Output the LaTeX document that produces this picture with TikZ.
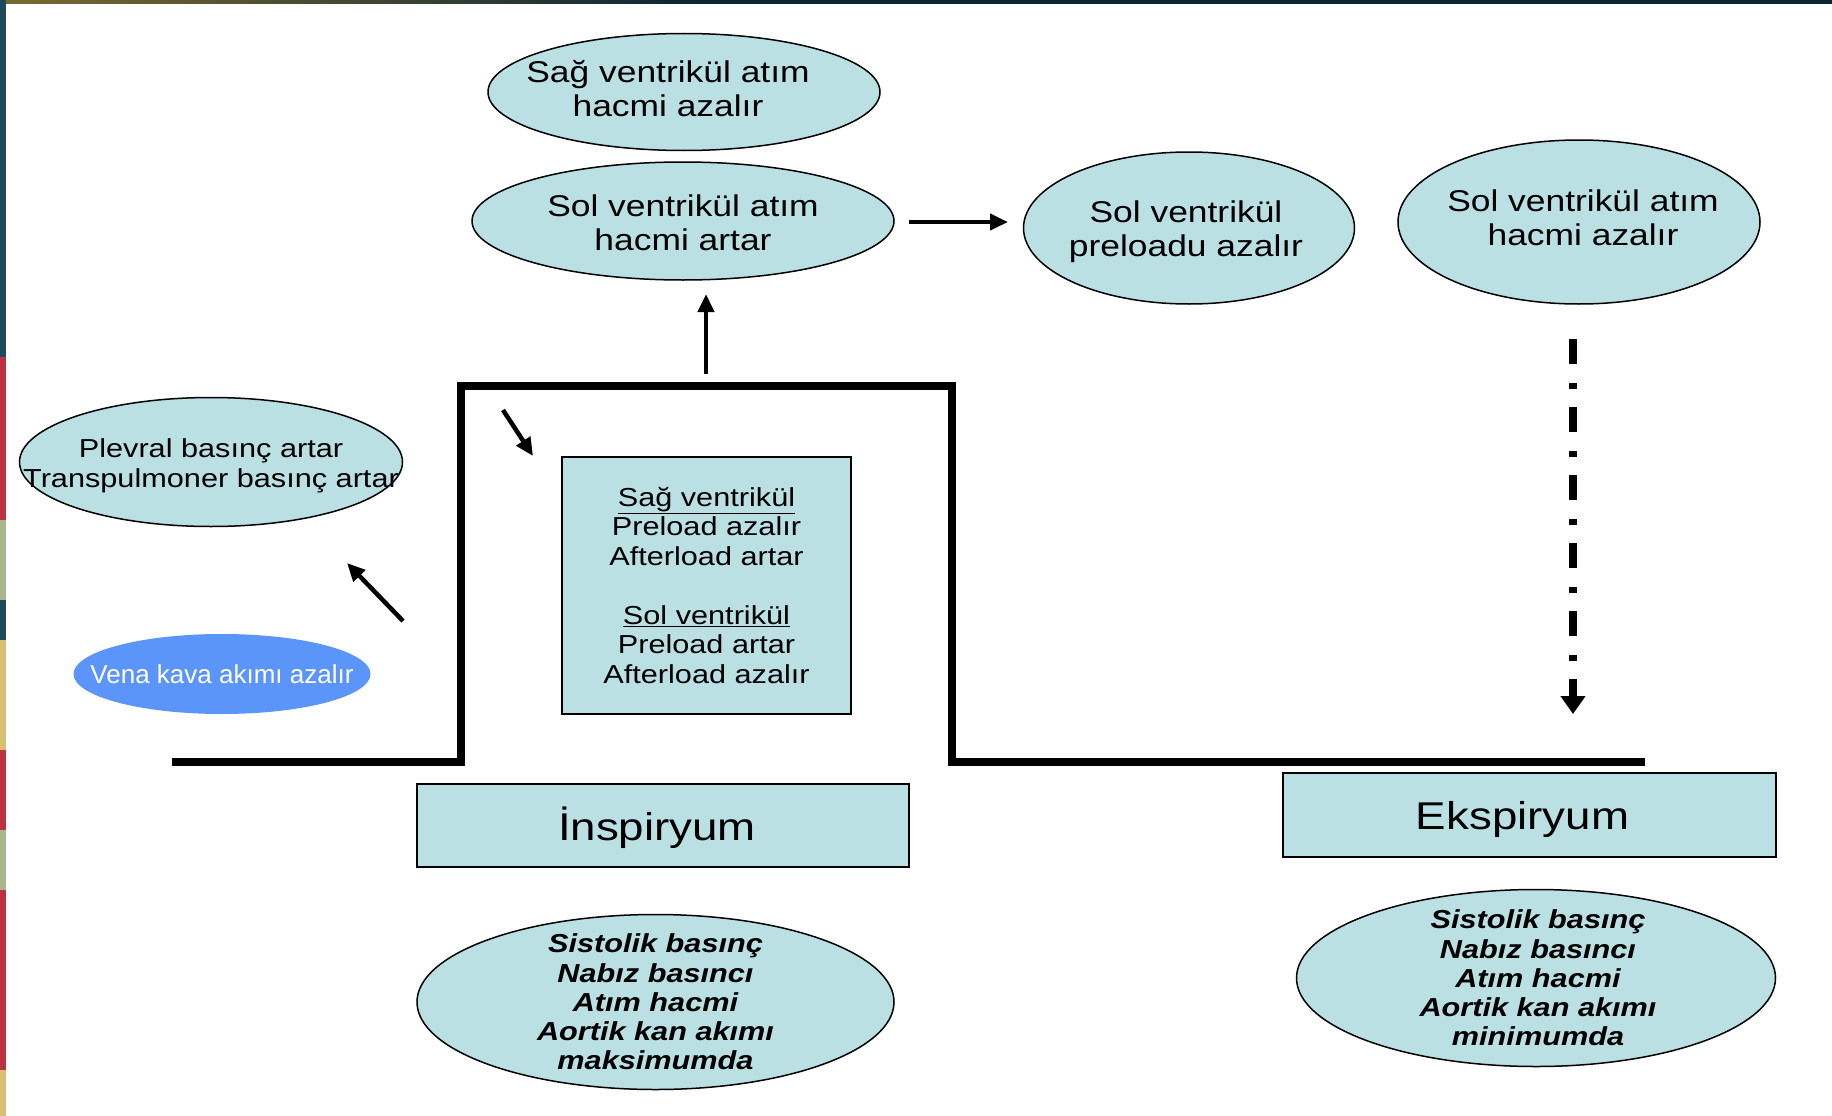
\documentclass[tikz,border=0pt]{standalone}
\usepackage{fontspec}
\setmainfont[FakeStretch=1.18]{Liberation Sans}
\newfontfamily\venafont{Liberation Sans}
\usepackage{xcolor}
\usetikzlibrary{arrows.meta,positioning,shapes.geometric}
\definecolor{paleblue}{HTML}{BAE0E3}
\definecolor{venablue}{HTML}{5B95F9}
\definecolor{stripteal}{HTML}{1E4A5C}
\definecolor{stripred}{HTML}{B83242}
\definecolor{stripyellow}{HTML}{D8C070}
\definecolor{stripsage}{HTML}{A8B88A}
\definecolor{stripnavy}{HTML}{0B2535}
\definecolor{stripolive}{HTML}{7A6A30}

\begin{document}
\begin{tikzpicture}[x=1pt, y=-1pt,
    oval/.style={ellipse, draw, fill=paleblue, line width=1.5pt, inner sep=0pt},
    box/.style={rectangle, draw, fill=paleblue, line width=1.5pt, align=center},
    bigtxt/.style={align=center, font=\fontsize{30}{34}\selectfont},
    midtxt/.style={align=center, font=\fontsize{26}{30}\selectfont},
    resulttxt/.style={align=center, font=\fontsize{26}{29.2}\selectfont\bfseries\itshape},
    phasetxt/.style={font=\fontsize{38.7}{42}\selectfont},
    arrow/.style={-{Triangle[length=18pt, width=16pt]}, line width=4.5pt},
    dasharrow/.style={-{Triangle[length=18pt, width=24pt]}, line width=8pt,
        dash pattern=on 25pt off 19pt on 6pt off 18pt}
]
\useasboundingbox (0,0) rectangle (1832,1116);

% Frame strips
\shade[left color=stripolive, right color=stripnavy] (0,0) rectangle (700,4);
\fill[stripnavy] (700,0) rectangle (1832,4);
\foreach \ya/\yb/\col in {0/357/stripteal, 357/520/stripred, 520/600/stripsage,
    600/640/stripteal, 640/750/stripyellow, 750/830/stripred, 830/890/stripsage,
    890/1070/stripred, 1070/1116/stripyellow}
    \fill[\col] (0,\ya) rectangle (6,\yb);

% Breathing curve
\draw[line width=8pt, miter limit=10] (172,762) -- (461,762) -- (461,386)
    -- (952,386) -- (952,762) -- (1645,762);

% Top ellipses
\node[oval, minimum width=392pt, minimum height=117pt] (sagatim) at (684,92) {};
\node[bigtxt] (sagatim-t) at ([xshift=-16pt, yshift=3pt]sagatim) {Sağ ventrikül atım\\hacmi azalır};
\node[oval, minimum width=422pt, minimum height=118pt] (solatim) at (683,221) {};
\node[bigtxt] (solatim-t) at ([yshift=-2pt]solatim) {Sol ventrikül atım\\hacmi artar};
\node[oval, minimum width=331pt, minimum height=152pt] (preload) at (1189,228) {};
\node[bigtxt] (preload-t) at ([xshift=-3pt, yshift=-4pt]preload) {Sol ventrikül\\preloadu azalır};
\node[oval, minimum width=362pt, minimum height=164pt] (solazal) at (1579,222) {};
\node[bigtxt] (solazal-t) at ([xshift=4pt, yshift=4pt]solazal) {Sol ventrikül atım\\hacmi azalır};

% Left side
\node[oval, minimum width=383pt, minimum height=129pt] (plevral) at (211,462) {};
\node[midtxt] (plevral-t) at ([yshift=-4pt]plevral) {Plevral basınç artar\\Transpulmoner basınç artar};
\node[ellipse, fill=venablue, inner sep=0pt, minimum width=297pt, minimum height=80pt] (vena) at (222,674) {};
\node[text=white, font=\venafont\fontsize{26}{30}\selectfont] (vena-t) at (vena) {Vena kava akımı azalır};

% Ventricle loads
\node[box, minimum width=289pt, minimum height=257pt, font=\fontsize{26}{29.5}\selectfont] (loads) at (706.5,585.5)
    {\underline{Sağ ventrikül}\\Preload azalır\\Afterload artar\\[29.5pt]
     \underline{Sol ventrikül}\\Preload artar\\Afterload azalır};

% Phases
\node[box, minimum width=492pt, minimum height=83pt] (insp) at (663,825.5) {};
\node[phasetxt] (insp-t) at ([xshift=-6pt, yshift=-2pt]insp) {İnspiryum};
\node[box, minimum width=493pt, minimum height=84pt] (eksp) at (1529.5,815) {};
\node[phasetxt] (eksp-t) at ([xshift=-7pt, yshift=-4pt]eksp) {Ekspiryum};

% Results
\node[oval, minimum width=477pt, minimum height=175pt] (inspres) at (655.5,1002) {};
\node[resulttxt] (inspres-t) at (inspres) {Sistolik basınç\\Nabız basıncı\\Atım hacmi\\Aortik kan akımı\\maksimumda};
\node[oval, minimum width=479pt, minimum height=177pt] (ekspres) at (1536,978) {};
\node[resulttxt] (ekspres-t) at ([xshift=2pt]ekspres) {Sistolik basınç\\Nabız basıncı\\Atım hacmi\\Aortik kan akımı\\minimumda};

% Arrows
\coordinate (upA) at (706,374);    \coordinate (upB) at (706,294);
\coordinate (rtA) at (909,222);    \coordinate (rtB) at (1008,222);
\coordinate (drA) at (503,410);    \coordinate (drB) at (533,456);
\coordinate (ulA) at (403,621);    \coordinate (ulB) at (347,563);
\coordinate (dnA) at (1573,339);   \coordinate (dnB) at (1573,714);
\draw[arrow] (upA) -- (upB);
\draw[arrow] (rtA) -- (rtB);
\draw[arrow] (drA) -- (drB);
\draw[arrow] (ulA) -- (ulB);
\draw[dasharrow] (dnA) -- (dnB);
\end{tikzpicture}
\end{document}
